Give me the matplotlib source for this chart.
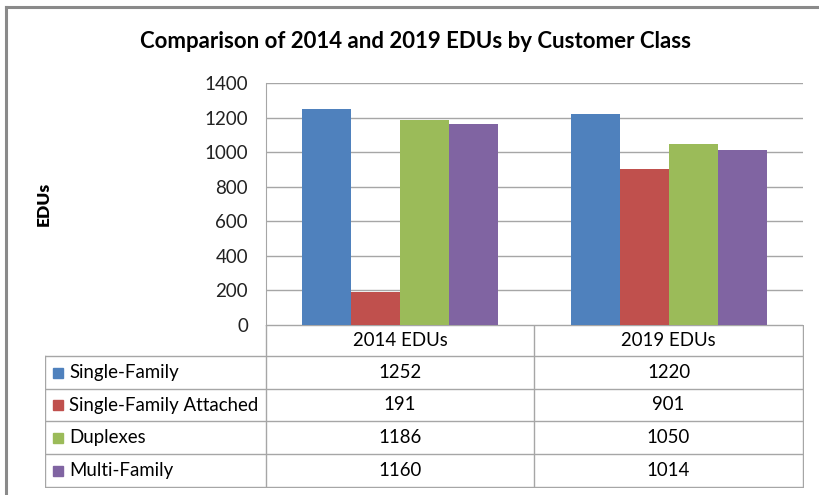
import numpy as np
import matplotlib.pyplot as plt

plt.rcParams['font.family'] = ['Lato', 'DejaVu Sans']

# Data
periods = ['2014 EDUs', '2019 EDUs']
classes = ['Single-Family', 'Single-Family Attached', 'Duplexes', 'Multi-Family']
edus_2014 = [1252, 191, 1186, 1160]
edus_2019 = [1220, 901, 1050, 1014]
colors = ['#4F81BD', '#C0504D', '#9BBB59', '#8064A2']
yticks = [0, 200, 400, 600, 800, 1000, 1200, 1400]

W, H = 820, 495
fig = plt.figure(figsize=(W / 100, H / 100), dpi=100)

def px_rect(x0, y0, x1, y1):
    return [x0 / W, 1 - y1 / H, (x1 - x0) / W, (y1 - y0) / H]

# outer frame (top and left edges only visible)
fig.add_artist(plt.Line2D([6 / W, 1], [1 - 7 / H, 1 - 7 / H], color='#8a8a8a', lw=2.2))
fig.add_artist(plt.Line2D([6 / W, 6 / W], [0, 1 - 7 / H], color='#8a8a8a', lw=2.2))

# main bar chart
ax = fig.add_axes(px_rect(266, 83, 803, 325))
values = np.array([edus_2014, edus_2019])  # periods x classes
n = len(classes)
bw = 1 / (n + 1.47)
x = np.arange(len(periods))
for i, cls in enumerate(classes):
    ax.bar(x + (i - (n - 1) / 2) * bw, values[:, i], width=bw, color=colors[i],
           edgecolor='none', zorder=3)
ax.set_xlim(-0.5, len(periods) - 0.5)
ax.set_ylim(0, 1400)
ax.set_yticks(yticks)
ax.tick_params(axis='y', length=0, pad=13, labelsize=13.5)
ax.set_xticks([])
ax.grid(axis='y', color='#a6a6a6', lw=1, zorder=0)
for s in ['top', 'right', 'bottom']:
    ax.spines[s].set_visible(False)
ax.spines['left'].set_color('#a6a6a6')
ax.set_ylabel('EDUs', fontsize=12.5, fontweight='heavy', labelpad=0)
ax.yaxis.set_label_coords(-(266 - 52) / (803 - 266), 0.5)
for lab in ax.get_yticklabels():
    lab.set_color('#222222')

fig.text(0.5 * (138 + 693) / W, 1 - 42 / H,
         'Comparison of 2014 and 2019 EDUs by Customer Class',
         ha='center', va='center', fontsize=16, fontweight='bold')

# data table
tab = fig.add_axes(px_rect(45, 325, 804, 488))
tab.set_xlim(45, 804)
tab.set_ylim(488, 325)
tab.axis('off')
lc = '#a6a6a6'
col_x = [45, 266, 534, 803]
row_y = [325, 356, 389, 421, 454, 487]
tab.plot([col_x[1], col_x[3]], [row_y[0], row_y[0]], color=lc, lw=1)
for yy in row_y[1:]:
    tab.plot([col_x[0], col_x[3]], [yy, yy], color=lc, lw=1)
for xx in col_x[1:]:
    tab.plot([xx, xx], [row_y[0], row_y[-1]], color=lc, lw=1)
tab.plot([col_x[0], col_x[0]], [row_y[1], row_y[-1]], color=lc, lw=1)

fs = 13.4
for j, p in enumerate(periods):
    tab.text((col_x[j + 1] + col_x[j + 2]) / 2, (row_y[0] + row_y[1]) / 2, p,
             ha='center', va='center', fontsize=fs)
for i, cls in enumerate(classes):
    yc = (row_y[i + 1] + row_y[i + 2]) / 2
    tab.add_patch(plt.Rectangle((53, yc - 5), 10, 10, color=colors[i]))
    tab.text(69, yc, cls, ha='left', va='center', fontsize=fs)
    for j in range(len(periods)):
        tab.text((col_x[j + 1] + col_x[j + 2]) / 2, yc, str(values[j, i]),
                 ha='center', va='center', fontsize=fs)

fig.savefig('out.png', dpi=100)
